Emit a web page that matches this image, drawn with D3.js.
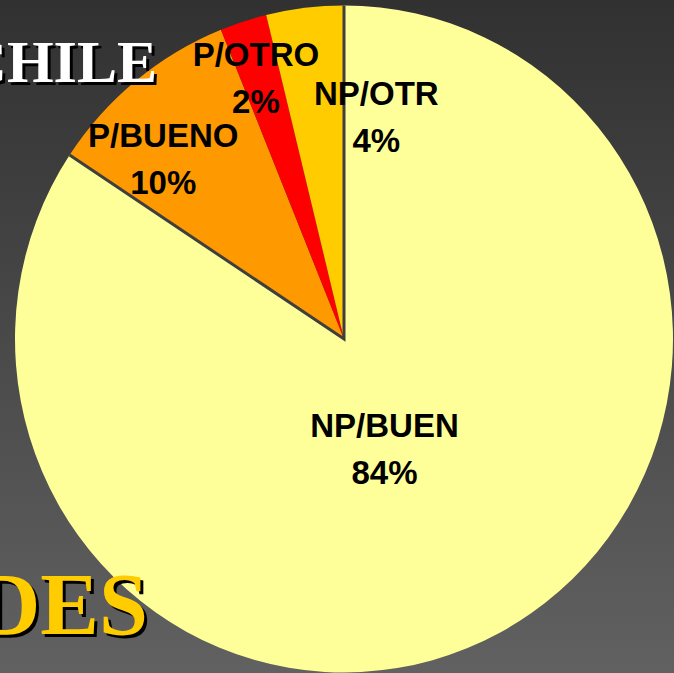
<!DOCTYPE html>
<html>
<head>
<meta charset="utf-8">
<script src="https://cdn.jsdelivr.net/npm/d3@7"></script>
<style>
  html, body { margin: 0; padding: 0; overflow: hidden; }
  svg { display: block; }
</style>
</head>
<body>
<svg id="chart" width="674" height="673"></svg>
<script>
// slice data, clockwise from 12 o'clock
var categories = ["NP/BUEN", "P/BUENO", "P/OTRO", "NP/OTR"];
var shares = [84.3, 9.6, 2.3, 3.8];
var shareLabels = ["84%", "10%", "2%", "4%"];

var width = 674, height = 673;
var cx = 344, cy = 339, rx = 329, ry = 333.5;

var svg = d3.select("#chart");
var defs = svg.append("defs");

// dark slide background
var bg = defs.append("linearGradient")
    .attr("id", "bg").attr("x1", 0).attr("y1", 0).attr("x2", 0).attr("y2", 1);
bg.append("stop").attr("offset", "0%").attr("stop-color", "#313131");
bg.append("stop").attr("offset", "100%").attr("stop-color", "#616161");
svg.append("rect").attr("width", width).attr("height", height).attr("fill", "url(#bg)");

var color = d3.scaleOrdinal()
    .domain(categories)
    .range(["#ffff99", "#ff9900", "#ff0000", "#ffcc00"]);

var pie = d3.pie().sort(null).value(function(d) { return d.value; });
var arc = d3.arc().innerRadius(0).outerRadius(rx);

var data = categories.map(function(c, i) {
  return { name: c, value: shares[i], label: shareLabels[i] };
});
var arcs = pie(data);

// the pie is drawn a little taller than wide, as on the slide
var g = svg.append("g")
    .attr("transform", "translate(" + cx + "," + cy + ") scale(1," + (ry / rx) + ")");

g.selectAll("path.slice")
    .data(arcs)
  .enter().append("path")
    .attr("class", "slice")
    .attr("d", arc)
    .attr("fill", function(d) { return color(d.data.name); });

// radial edges of the big slice
var big = arcs[0];
g.append("path")
    .attr("d", d3.lineRadial()([[big.endAngle, rx], [0, 0], [big.startAngle, rx]]))
    .attr("fill", "none")
    .attr("stroke", "#3e3e3e")
    .attr("stroke-width", 3)
    .attr("vector-effect", "non-scaling-stroke")
    .attr("stroke-linejoin", "miter");

// where each label sits: shift from the slice's mid angle (deg), distance, nudge
var labelPlace = {
  "NP/BUEN": { shift: 8, r: 117, dx: 0, dy: 0 },
  "P/BUENO": { shift: -5.4, r: 253, dx: -3, dy: 0 },
  "P/OTRO":  { shift: -2.1, r: 279, dx: 7, dy: 1 },
  "NP/OTR":  { shift: 15.4, r: 224, dx: -1, dy: 0 }
};

var labels = svg.append("g")
    .attr("transform", "translate(" + cx + "," + cy + ")")
  .selectAll("g.lab")
    .data(arcs)
  .enter().append("g")
    .attr("class", "lab")
    .attr("transform", function(d) {
      var p = labelPlace[d.data.name];
      var a = (d.startAngle + d.endAngle) / 2 + p.shift * Math.PI / 180;
      var c = d3.arc().innerRadius(p.r).outerRadius(p.r)
          .startAngle(a).endAngle(a).centroid();
      return "translate(" + (c[0] + p.dx) + "," + (c[1] + p.dy) + ")";
    })
    .style("font-family", "'Liberation Sans', Arial, sans-serif")
    .style("font-weight", "bold")
    .style("font-size", "33px")
    .attr("fill", "#000")
    .attr("text-anchor", "middle");

labels.append("text").attr("y", -12).text(function(d) { return d.data.name; });
labels.append("text").attr("y", 35).text(function(d) { return d.data.label; });

// fragments of the slide title, cut by the slide edge
function shadowText(txt, x, y, size, fill) {
  var t = svg.append("g")
      .style("font-family", "'Liberation Serif', 'Times New Roman', serif")
      .style("font-weight", "bold")
      .style("font-size", size + "px")
      .attr("text-anchor", "end");
  t.append("text").attr("x", x + 3).attr("y", y + 3).attr("fill", "#000").text(txt);
  t.append("text").attr("x", x).attr("y", y).attr("fill", fill).text(txt);
}
shadowText("CHILE", 157, 82, 60, "#ffffff");
shadowText("DES", 148, 634, 88, "#ffcc00");
</script>
</body>
</html>
